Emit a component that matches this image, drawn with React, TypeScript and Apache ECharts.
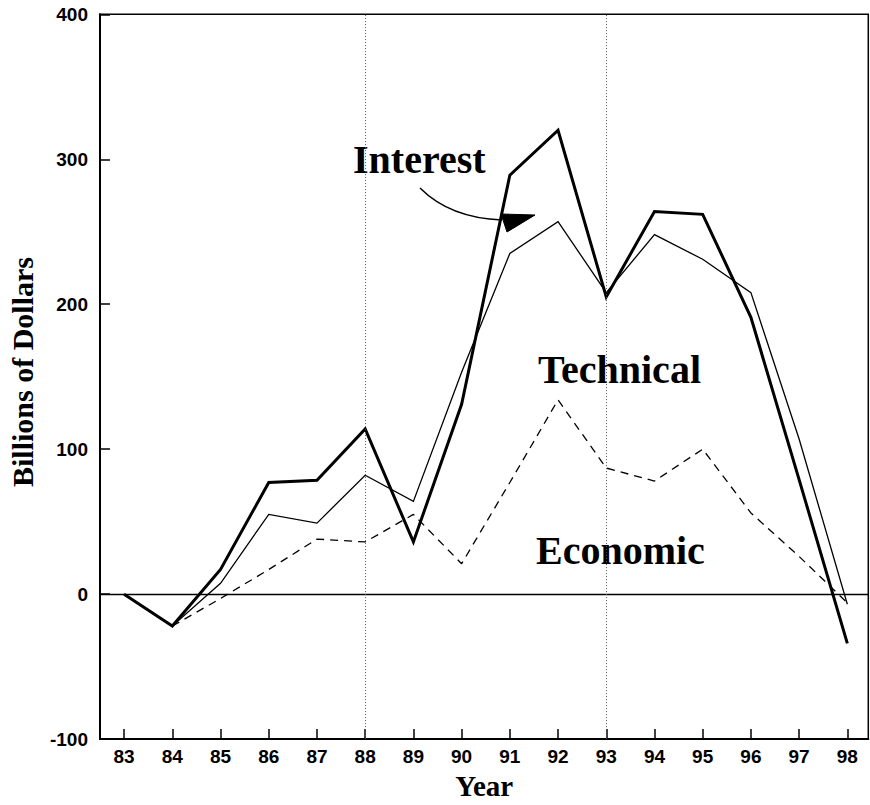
import React, { useEffect, useRef } from "react";
import * as echarts from "echarts";

// Fiscal years (19xx)
const years = [83, 84, 85, 86, 87, 88, 89, 90, 91, 92, 93, 94, 95, 96, 97, 98];
// Billions of dollars
const interest = [0, -22, 17, 77, 78.5, 114, 36, 131, 289, 320, 205, 264, 262, 191, 79, -34];
const technical = [0, -22, 7.5, 55, 49, 82, 64, 153, 235, 257, 208, 248, 231, 208, 107, -7];
const economic = [null, -22, -3, 17, 38, 36, 55, 21, 77, 134, 87, 78, 100, 56, 26, -6];
const markerYears = [88, 93];
const yMin = -100;
const yMax = 400;
const yStep = 100;

const serif = "'Liberation Serif', 'Times New Roman', serif";
const tickFont = "'Liberation Sans', Arial, sans-serif";

export default function App() {
  const ref = useRef<HTMLDivElement>(null);

  useEffect(() => {
    if (!ref.current) return;
    const chart = echarts.init(ref.current, null, { renderer: "svg" });
    const pair = (vals: (number | null)[]) =>
      years
        .map((y, i) => [y, vals[i]] as [number, number | null])
        .filter((p) => p[1] !== null);

    chart.setOption({
      animation: false,
      backgroundColor: "#ffffff",
      grid: {
        left: 100,
        right: 1.7,
        top: 14.3,
        bottom: 61.5,
        show: true,
        borderColor: "#000",
        borderWidth: 1.5,
        backgroundColor: "transparent",
      },
      xAxis: {
        type: "value",
        min: 82.5,
        max: 98.435,
        axisLine: { show: true, onZero: false, lineStyle: { color: "#000", width: 2 } },
        axisTick: {
          show: true,
          inside: true,
          length: 10,
          customValues: years,
          lineStyle: { color: "#000", width: 1.5 },
        },
        axisLabel: {
          show: true,
          customValues: years,
          margin: 8,
          color: "#000",
          fontFamily: tickFont,
          fontWeight: "bold",
          fontSize: 19,
          formatter: (v: number) => String(v),
        },
        splitLine: { show: false },
        name: "Year",
        nameLocation: "middle",
        nameGap: 30,
        nameTextStyle: {
          color: "#000",
          fontFamily: serif,
          fontWeight: "bold",
          fontSize: 29,
        },
      },
      yAxis: {
        type: "value",
        min: yMin,
        max: yMax,
        interval: yStep,
        axisLine: { show: true, onZero: false, lineStyle: { color: "#000", width: 2 } },
        axisTick: { show: true, inside: true, length: 10, lineStyle: { color: "#000", width: 1.5 } },
        axisLabel: {
          margin: 12,
          color: "#000",
          fontFamily: tickFont,
          fontWeight: "bold",
          fontSize: 19,
        },
        splitLine: { show: false },
      },
      series: [
        {
          name: "Economic",
          type: "line",
          data: pair(economic),
          symbol: "none",
          lineStyle: { color: "#000", width: 1.3, type: [8, 6] },
          z: 2,
          markLine: {
            silent: true,
            symbol: ["none", "none"],
            label: { show: false },
            data: [
              { yAxis: 0, lineStyle: { type: "solid", color: "#000", width: 1.3 } },
              ...markerYears.map((y) => ({
                xAxis: y,
                lineStyle: { type: [1, 2], color: "#555", width: 1 },
              })),
            ],
          },
        },
        {
          name: "Technical",
          type: "line",
          data: pair(technical),
          symbol: "none",
          lineStyle: { color: "#000", width: 1.3, join: "miter" },
          z: 3,
        },
        {
          name: "Interest",
          type: "line",
          data: pair(interest),
          symbol: "none",
          lineStyle: { color: "#000", width: 3, join: "miter" },
          z: 4,
        },
      ],
      graphic: [
        {
          type: "text",
          x: 22,
          y: 372,
          rotation: Math.PI / 2,
          style: {
            text: "Billions of Dollars",
            fill: "#000",
            font: `bold 30px ${serif}`,
            align: "center",
            verticalAlign: "middle",
          },
        },
        {
          type: "text",
          x: 353,
          y: 159,
          style: {
            text: "Interest",
            fill: "#000",
            font: `bold 40px ${serif}`,
            align: "left",
            verticalAlign: "middle",
          },
        },
        {
          type: "text",
          x: 538,
          y: 369,
          style: {
            text: "Technical",
            fill: "#000",
            font: `bold 40px ${serif}`,
            align: "left",
            verticalAlign: "middle",
          },
        },
        {
          type: "text",
          x: 536,
          y: 550,
          style: {
            text: "Economic",
            fill: "#000",
            font: `bold 40px ${serif}`,
            align: "left",
            verticalAlign: "middle",
          },
        },
        {
          type: "bezierCurve",
          shape: { x1: 420, y1: 188, cpx1: 450, cpy1: 218, x2: 502, y2: 220 },
          style: { stroke: "#000", lineWidth: 1.5, fill: "none" },
        },
        {
          type: "polygon",
          shape: { points: [[501, 214], [507, 232], [535, 215]] },
          style: { fill: "#000", stroke: "#000", lineWidth: 1 },
        },
      ],
    });
    return () => chart.dispose();
  }, []);

  return (
    <div
      ref={ref}
      style={{ position: "fixed", left: 0, top: 0, width: 870, height: 805, background: "#fff" }}
    />
  );
}
